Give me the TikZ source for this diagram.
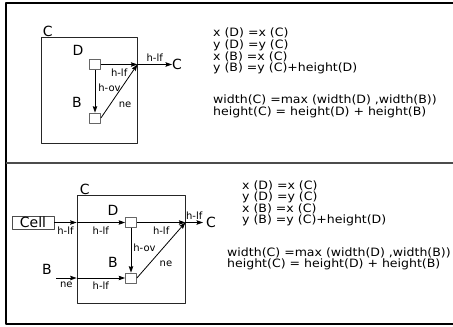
\documentclass[tikz,border=0pt]{standalone}
\usepackage{fontspec}
\setmainfont{DejaVu Sans}
\newfontfamily\eqfont[FakeStretch=1.09]{DejaVu Sans}
\usetikzlibrary{arrows.meta}
\begin{document}
\begin{tikzpicture}[x=1pt, y=-1pt, line join=round, >={Stealth[length=6.5pt,width=4.5pt,inset=1pt]},
  frame/.style={line width=2pt},
  cellframe/.style={draw=black!85, line width=0.8pt, inner sep=0pt},
  sq/.style={draw=black!60, line width=0.8pt, fill=white, minimum width=11pt, minimum height=10pt, inner sep=0pt},
  conn/.style={->, line width=0.8pt},
  lbl/.style={font=\fontsize{10}{10}\selectfont, inner sep=0pt},
  nm/.style={font=\fontsize{14}{14}\selectfont, inner sep=0pt},
  eq/.style={font=\eqfont\fontsize{11.5}{11.5}\selectfont, anchor=west, inner sep=0pt}]
	\useasboundingbox (0,0) rectangle (453,327);
	\draw[frame] (453,3) -- (6,3) -- (6,324) -- (453,324);
	\draw[frame, black!70] (6,163) -- (453,163);
	% upper panel
	\node[cellframe, minimum width=96pt, minimum height=106pt] (C1) at (89,90) {};
	\node[nm, anchor=south west] (c1lbl) at ([xshift=2pt]C1.north west) {C};
	\node[sq] (D1) at (95,64.5) {};
	\node[sq] (B1) at (95,118) {};
	\node[nm] (d1lbl) at (78,50) {D};
	\node[nm] (b1lbl) at (77,102) {B};
	\coordinate (J1) at (C1.east |- D1);
	\node[nm, anchor=west] (Cout1) at (172,64.5) {C};
	\draw[conn] (D1.east) -- (J1) node[lbl, midway, below=3.5pt] {h-lf};
	\draw[conn] (J1) -- (Cout1.west) node[lbl, midway, above=3pt] {h-lf};
	\draw[conn] (D1.south) -- (B1.north) node[lbl, pos=0.42, right=3pt] {h-ov};
	\draw[conn] (B1.east) -- (J1) node[lbl, pos=0.4, anchor=north west, xshift=3pt, yshift=-4.5pt] {ne};
	\node[eq] at (213,33) {x (D) =x (C)};
	\node[eq] at (213,45) {y (D) =y (C)};
	\node[eq] at (213,56.5) {x (B) =x (C)};
	\node[eq] at (213,68) {y (B) =y (C)+height(D)};
	\node[eq] at (213,100) {width(C) =max (width(D) ,width(B))};
	\node[eq] at (213,112) {height(C) = height(D) + height(B)};
	% lower panel
	\node[cellframe, minimum width=108pt, minimum height=108pt] (C2) at (131,249) {};
	\node[nm, anchor=south west] (c2lbl) at ([xshift=3pt]C2.north west) {C};
	\node[draw=black!70, line width=0.8pt, minimum width=42pt, minimum height=13pt, inner sep=0pt, font=\fontsize{14}{14}\selectfont] (cell) at (33,222.5) {Cell};
	\node[sq] (D2) at (131,222.5) {};
	\node[sq] (B2) at (131,278) {};
	\node[nm] (d2lbl) at (113,210) {D};
	\node[nm] (b2lbl) at (113,262) {B};
	\node[nm] (Bin) at (47,269) {B};
	\coordinate (L1) at (C2.west |- D2);
	\coordinate (L2) at (C2.west |- B2);
	\coordinate (J2) at (C2.east |- D2);
	\coordinate (Bsrc) at ([xshift=4pt]Bin.east |- B2);
	\node[nm, anchor=west] (Cout2) at (206,222.5) {C};
	\draw[conn] (cell.east) -- (L1) node[lbl, midway, below=3.5pt] {h-lf};
	\draw[conn] (L1) -- (D2.west) node[lbl, midway, below=3.5pt] {h-lf};
	\draw[conn] (D2.east) -- (J2) node[lbl, midway, below=3.5pt] {h-lf};
	\draw[conn] (J2) -- ([xshift=-3pt]Cout2.west) node[lbl, midway, above=3pt] {h-lf};
	\draw[conn] (Bsrc) -- (L2) node[lbl, midway, below=3.5pt] {ne};
	\draw[conn] (L2) -- (B2.west) node[lbl, midway, below=3.5pt] {h-lf};
	\draw[conn] (D2.south) -- (B2.north) node[lbl, pos=0.45, right=2pt] {h-ov};
	\draw[conn] (B2.east) -- (J2) node[lbl, pos=0.4, anchor=north west, xshift=3pt, yshift=-4.5pt] {ne};
	\node[eq] at (242,186) {x (D) =x (C)};
	\node[eq] at (242,197.5) {y (D) =y (C)};
	\node[eq] at (242,209) {x (B) =x (C)};
	\node[eq] at (242,220.5) {y (B) =y (C)+height(D)};
	\node[eq] at (227,252.5) {width(C) =max (width(D) ,width(B))};
	\node[eq] at (227,264) {height(C) = height(D) + height(B)};
\end{tikzpicture}
\end{document}
